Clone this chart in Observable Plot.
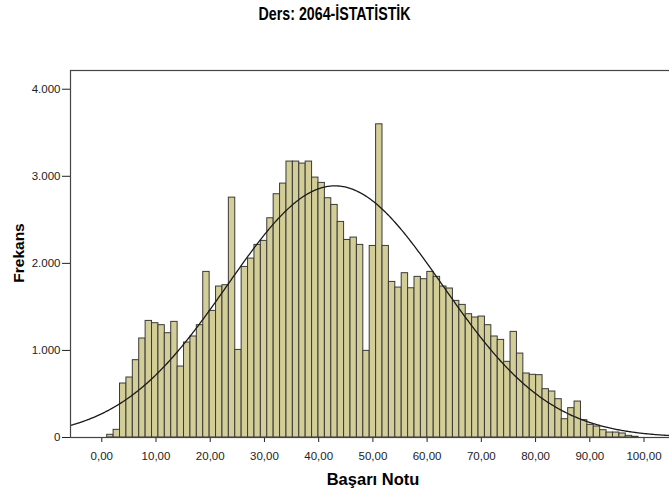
<!DOCTYPE html>
<html>
<head>
<meta charset="utf-8">
<script src="https://cdn.jsdelivr.net/npm/d3@7"></script>
<script src="https://cdn.jsdelivr.net/npm/@observablehq/plot@0.6"></script>
<style>
  html, body { margin: 0; padding: 0; background: #fff; overflow: hidden; }
  #wrap { position: relative; width: 669px; height: 492px; overflow: hidden; }
  #title { position: absolute; left: 0; width: 669px; top: 4px; text-align: center;
           font-family: "Liberation Sans", Arial, sans-serif;
           font-weight: bold; font-size: 18px; color: #000; transform: scaleX(0.79); transform-origin: 335px 0; }
  #ylab { position: absolute; left: 19px; top: 253px; transform: translate(-50%, -50%) rotate(-90deg);
          font-family: "Liberation Sans", Arial, sans-serif; font-weight: bold; font-size: 15.5px; white-space: nowrap; }
  #xlab { position: absolute; left: 373px; top: 479px; transform: translate(-50%, -50%);
          font-family: "Liberation Sans", Arial, sans-serif; font-weight: bold; font-size: 16.5px; white-space: nowrap; }
  #chart { position: absolute; left: 0; top: 0; }
  #chart svg { max-width: none !important; height: 492px !important; }
</style>
</head>
<body>
<div id="wrap">
  <div id="chart"></div>
  <div id="title">Ders: 2064-İSTATİSTİK</div>
  <div id="ylab">Frekans</div>
  <div id="xlab">Başarı Notu</div>
</div>
<script>
// Histogram counts (83 equal bins between binStart and binEnd)
const counts = [31,88,620,689,888,1137,1339,1313,1290,1198,
  1328,815,1091,1160,1290,1902,1454,1734,1749,2755,
  1006,1959,2055,2212,2258,2518,2794,2916,3169,3169,
  3146,3169,2985,2924,2748,2671,2476,2269,2296,2212,
  995,2200,3597,2200,1787,1722,1887,1714,1845,1818,
  1902,1845,1734,1711,1569,1523,1416,1378,1389,1290,
  1160,1121,869,1213,964,735,720,716,555,528,
  440,210,337,413,199,145,126,84,57,57,
  46,19,8];
const binStart = 1;
const binEnd = 99;
// Normal curve parameters
const curveMean = 43.0;
const curveSD = 19.8;
const curvePeak = 2890;
const xTicks = [0,10,20,30,40,50,60,70,80,90,100];
const yTicks = [0,1000,2000,3000,4000];
const xDomain = [-5.77, 106.73];
const yDomain = [0, 4215];

const binW = (binEnd - binStart) / counts.length;
const bins = counts.map((c, i) => ({x1: binStart + i * binW, x2: binStart + (i + 1) * binW, y: c}));
const curve = d3.range(xDomain[0], xDomain[1] + 0.2, 0.2).map(v => ({
  x: v, y: curvePeak * Math.exp(-0.5 * ((v - curveMean) / curveSD) ** 2)
}));

const fmtX = d => d.toFixed(2).replace(".", ",");
const fmtY = d => d3.format(",")(d).replace(/,/g, ".");

const chart = Plot.plot({
  width: 680,
  height: 492,
  marginLeft: 70,
  marginRight: 0,
  marginTop: 70,
  marginBottom: 55,
  style: {fontFamily: "'Liberation Sans', Arial, sans-serif", fontSize: "11.5px", color: "#222", background: "#fff", maxWidth: "none"},
  x: {domain: xDomain, ticks: xTicks, tickFormat: fmtX, tickSize: 5, tickPadding: 9, label: null},
  y: {domain: yDomain, ticks: yTicks, tickFormat: fmtY, tickSize: 8, tickPadding: 2, label: null},
  marks: [
    Plot.rectY(bins, {x1: "x1", x2: "x2", y: "y", fill: "#d3cd97", stroke: "#3a3a3a", strokeWidth: 1, inset: 0}),
    Plot.line(curve, {x: "x", y: "y", stroke: "#1a1a1a", strokeWidth: 1.3, clip: true, curve: "linear"}),
    Plot.frame({stroke: "#444", strokeWidth: 1.2})
  ]
});
document.getElementById("chart").appendChild(chart);
</script>
</body>
</html>
